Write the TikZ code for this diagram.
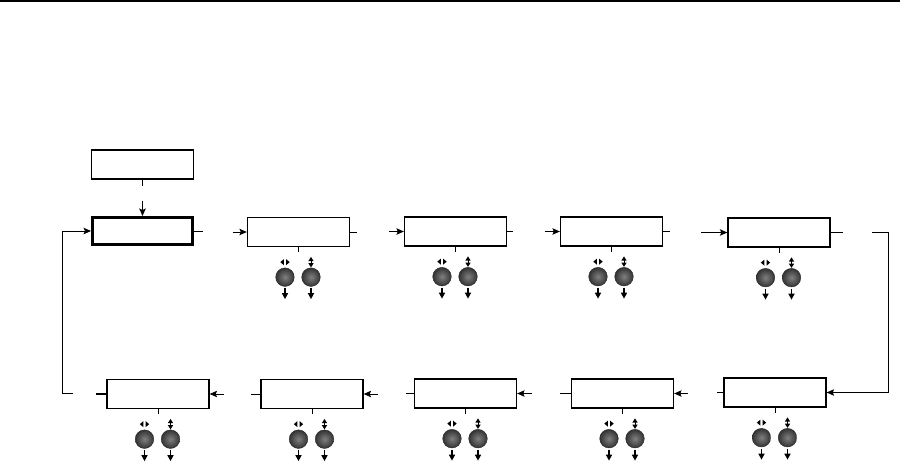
\documentclass[tikz,border=0pt]{standalone}
\usetikzlibrary{arrows.meta}
\begin{document}
\begin{tikzpicture}[x=1pt,y=-1pt,
  box/.style={draw,line width=1.3pt,rectangle,minimum width=102pt,minimum height=29pt,inner sep=0pt},
  thickbox/.style={box,line width=3pt,minimum width=100pt,minimum height=27pt},
  conn/.style={line width=0.9pt},
  stub/.style={line width=1.2pt},
  arr/.style={conn,-{Stealth[length=7.5pt,width=6.5pt,inset=1.5pt]}},
  knob/.style={inner color=black!50,outer color=black!80,draw=black!85,line width=0.4pt},
  knobs/.pic={
    \draw[line width=1pt] (0,0) -- (0,5);
    \shade[knob] (-13.5,30) circle (9.3pt);
    \shade[knob] (12.5,30) circle (9.3pt);
    \fill (-14.6,12) -- (-14.6,18) -- (-18.2,15) -- cycle;
    \fill (-12.4,12) -- (-12.4,18) -- (-8.8,15) -- cycle;
    \fill (9.8,14) -- (15.2,14) -- (12.5,9.8) -- cycle;
    \fill (9.8,16) -- (15.2,16) -- (12.5,20.2) -- cycle;
    \draw[line width=0.9pt] (12.5,13) -- (12.5,17);
    \draw[line width=1.5pt,-{Triangle[length=6pt,width=6pt]}] (-13.5,41) -- (-13.5,52);
    \draw[line width=1.5pt,-{Triangle[length=6pt,width=6pt]}] (12.5,41) -- (12.5,52);
  }]
\useasboundingbox (0,0) rectangle (900,463);
\fill (0,0) rectangle (900,2.2);

% boxes
\node[box] (p) at (142.5,164.5) {};
\node[thickbox] (t1) at (142.5,231) {};
\node[box] (t2) at (298.5,232) {};
\node[box] (t3) at (455.5,231.5) {};
\node[box] (t4) at (611.5,231.5) {};
\node[box] (t5) at (779,232.5) {};
\node[box] (b1) at (158,394) {};
\node[box] (b2) at (312,394) {};
\node[box] (b3) at (465.5,393.5) {};
\node[box] (b4) at (622.5,393.5) {};
\node[box] (b5) at (775,392.5) {};

% knobs
\foreach \n in {t2,t3,t4,t5,b1,b2,b3,b4,b5} {
  \pic at (\n.south) {knobs};
}

% entry
\draw[stub] (p.south) -- ++(0,6);
\draw[arr,line width=1.2pt] ([yshift=-21pt]p.south) -- (t1.north);

% top row
\draw[conn] (t1.east) -- ++(9,0);
\draw[arr] ([xshift=-14pt]t2.west) -- (t2.west);
\draw[conn] (t2.east) -- ++(7,0);
\draw[arr] ([xshift=-15pt]t3.west) -- (t3.west);
\draw[stub] (t3.east) -- ++(6,0);
\draw[arr] ([xshift=-15pt]t4.west) -- (t4.west);
\draw[stub] (t4.east) -- ++(7,0);
\draw[arr,line width=1.2pt] ([xshift=-26pt]t5.west) -- (t5.west);
\draw[conn] (t5.east) -- ++(12,0);

% right turn
\coordinate (ra) at (872,232);
\coordinate (rc) at (888,232);
\draw[arr] (ra) -- (rc) |- (b5.east);

% bottom row
\draw[conn] (b5.west) -- ++(-6,0);
\draw[arr] ([xshift=14pt]b4.east) -- (b4.east);
\draw[conn] (b4.west) -- ++(-11,0);
\draw[arr] ([xshift=15pt]b3.east) -- (b3.east);
\draw[conn] (b3.west) -- ++(-8,0);
\draw[arr] ([xshift=14pt]b2.east) -- (b2.east);
\draw[conn] (b2.west) -- ++(-9,0);
\draw[arr] ([xshift=14pt]b1.east) -- (b1.east);
\draw[stub] (b1.west) -- ++(-10,0);

% loop back
\coordinate (la) at (73,393.5);
\coordinate (lc) at (62.5,393.5);
\draw[arr] (la) -- (lc) |- (t1.west);
\end{tikzpicture}
\end{document}
